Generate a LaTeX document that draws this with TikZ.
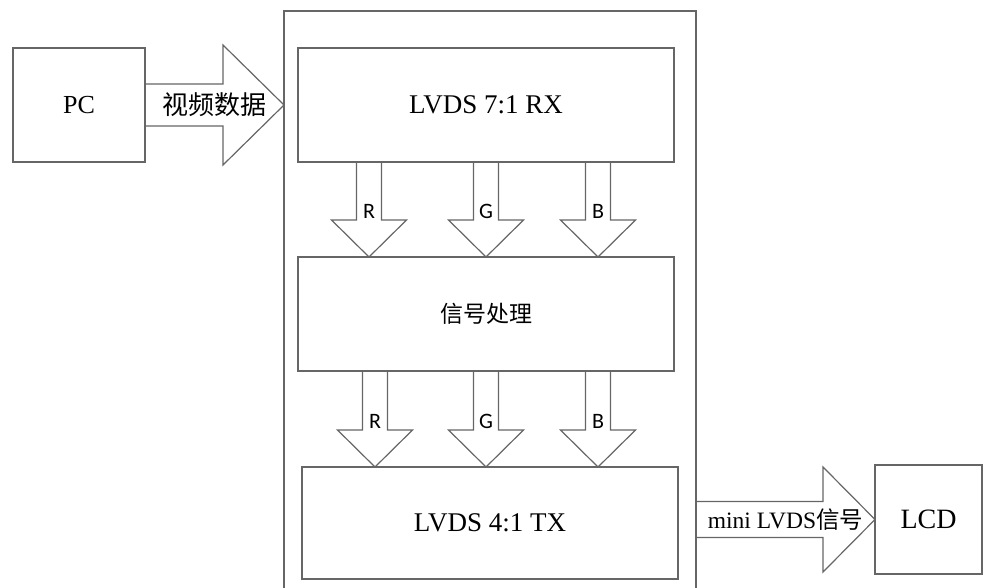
\documentclass[tikz,border=0pt]{standalone}
\usepackage{fontspec}
\setmainfont{Liberation Serif}
\newfontfamily\cjk{Noto Sans CJK SC}
\newfontfamily\calibri{Carlito}
\usetikzlibrary{calc}

% hollow block arrow, left to right
\newcommand{\fatright}[6]{%
\draw[edge] ($(#1)+(0,-#3)$) -- ($(#2)+(-#5,-#3)$) -- ($(#2)+(-#5,-#4)$) -- (#2)
  -- ($(#2)+(-#5,#4)$) -- ($(#2)+(-#5,#3)$) -- ($(#1)+(0,#3)$);
\node[lbl] at ($(#1)!0.5!(#2)$) {#6};}

% hollow block arrow, top to bottom
\newcommand{\fatdown}[3]{%
\draw[edge] ($(#1)+(-12.5,0)$) -- ($(#2)+(-12.5,-37)$) -- ($(#2)+(-37.5,-37)$) -- (#2)
  -- ($(#2)+(37.5,-37)$) -- ($(#2)+(12.5,-37)$) -- ($(#1)+(12.5,0)$);
\node[rgb] at ($($(#1)!0.5!(#2)$)+(0,2)$) {#3};}

\begin{document}
\begin{tikzpicture}[x=1pt,y=-1pt,
  box/.style={draw=black!60,line width=1.2pt,inner sep=0pt,outer sep=0pt,
    font=\fontsize{27}{31}\selectfont},
  edge/.style={draw=black!60,line width=1.2pt},
  lbl/.style={inner sep=0pt},
  rgb/.style={inner sep=0pt,font=\calibri\fontsize{22}{26}\selectfont}]
\useasboundingbox (0,0) rectangle (984,587);

\node[box,minimum width=132,minimum height=114,font=\fontsize{26}{30}\selectfont] (pc) at (79,105) {PC};
\node[box,minimum width=412,minimum height=600] (fpga) at (490,311) {};
\node[box,minimum width=376,minimum height=114] (rx) at (486,105) {LVDS 7:1 RX};
\node[box,minimum width=376,minimum height=114] (proc) at (486,314)
  {\cjk\fontsize{23}{27}\selectfont 信号处理};
\node[box,minimum width=376,minimum height=112] (tx) at (490,523) {LVDS 4:1 TX};
\node[box,minimum width=107,minimum height=109,font=\fontsize{28}{32}\selectfont] (lcd) at (928.5,519.5) {LCD};

\coordinate (vidin) at (fpga.west |- pc.east);
\fatright{pc.east}{vidin}{21}{60}{61}{\cjk\fontsize{26}{30}\selectfont 视频数据}

\coordinate (lvdsout) at (fpga.east |- lcd.west);
\fatright{lvdsout}{lcd.west}{18}{52.5}{52}{\fontsize{23.5}{27}\selectfont mini LVDS{\cjk 信号}}

\foreach \x/\c in {369/R,486/G,598/B} {
  \coordinate (u\c) at (\x,0 |- rx.south);
  \coordinate (v\c) at (\x,0 |- proc.north);
  \fatdown{u\c}{v\c}{\c}
}
\foreach \x/\c in {375/R,486/G,598/B} {
  \coordinate (s\c) at (\x,0 |- proc.south);
  \coordinate (t\c) at (\x,0 |- tx.north);
  \fatdown{s\c}{t\c}{\c}
}

\end{tikzpicture}
\end{document}
